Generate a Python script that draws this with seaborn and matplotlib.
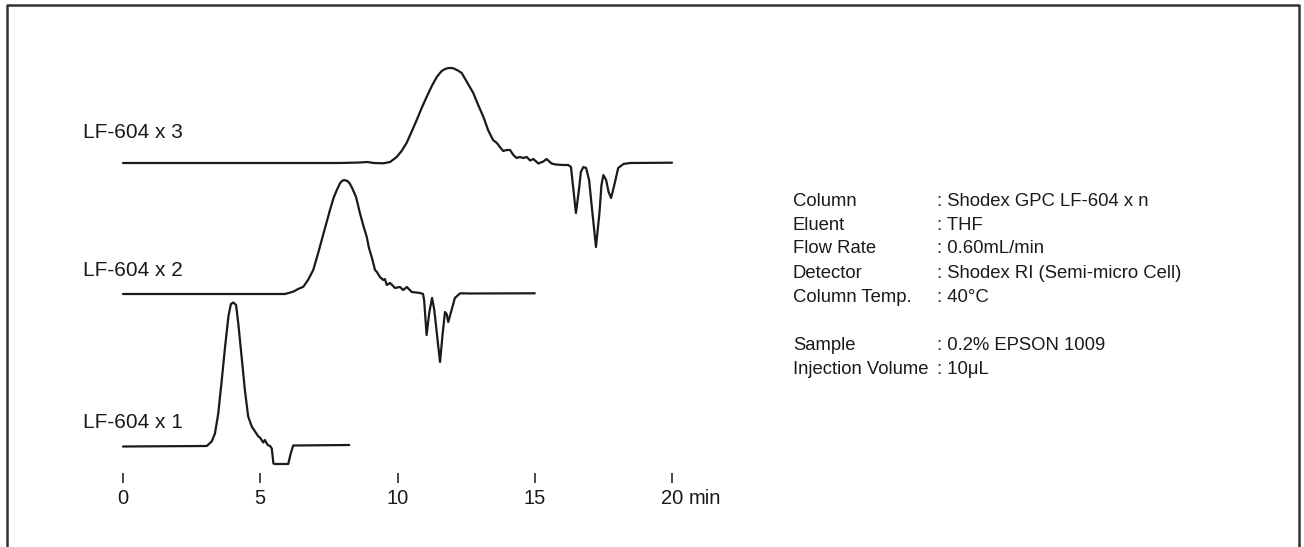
import matplotlib
matplotlib.use('Agg')
import matplotlib.pyplot as plt
from matplotlib.lines import Line2D
import pandas as pd
import seaborn as sns

# retention time (min) and detector signal (above own baseline)
T1 = [0.00, 3.05, 3.23, 3.35, 3.47, 3.60, 3.72, 3.84, 3.93, 4.02, 4.12, 4.20, 4.32,
      4.44, 4.56, 4.69, 4.81, 4.86, 4.93, 4.99, 5.05, 5.11, 5.17, 5.27, 5.36, 5.42,
      5.48, 5.54, 6.02, 6.11, 6.20, 8.24]
S1 = [0, 0.5, 5, 13, 33, 67, 100, 130, 142.5, 144, 141.5, 123, 90,
      56.5, 30, 20, 15, 13, 10, 9, 6.5, 4, 6.5, 1.5, 0.5, -2,
      -17, -17.5, -17.5, -7, 1, 1.5]

T2 = [0.00, 5.90, 6.20, 6.38, 6.57, 6.74, 6.93, 7.09, 7.24, 7.40, 7.54, 7.67, 7.79,
      7.91, 7.98, 8.05, 8.12, 8.20, 8.27, 8.33, 8.49, 8.63, 8.76, 8.88, 8.96, 9.06,
      9.18, 9.25, 9.36, 9.48, 9.54, 9.61, 9.73, 9.91, 10.09, 10.21, 10.34, 10.52,
      10.82, 10.93, 10.97, 11.06, 11.16, 11.26, 11.34, 11.46, 11.55, 11.64, 11.73,
      11.79, 11.85, 11.95, 12.09, 12.28, 12.64, 15.00]
S2 = [0, 0, 2.3, 5, 7.3, 14, 24, 39, 54, 70, 84, 96, 104,
      111, 113, 114, 113.5, 112.5, 110, 107, 97, 81, 68, 57, 46, 37,
      24, 22, 17, 14, 15, 9, 11, 6, 7, 4, 7, 2,
      1, 0, -6, -41, -18, -4, -16, -46, -68, -41, -18,
      -20, -28, -18, -4, 0.7, 0.5, 0.7]

T3 = [0.00, 7.91, 8.63, 8.89, 9.14, 9.48, 9.73, 9.97, 10.15, 10.33, 10.51, 10.70,
      10.88, 11.06, 11.25, 11.43, 11.61, 11.70, 11.79, 11.87, 11.94, 12.02, 12.09,
      12.20, 12.34, 12.53, 12.76, 12.94, 13.13, 13.30, 13.48, 13.62, 13.73, 13.85,
      13.98, 14.10, 14.22, 14.34, 14.46, 14.58, 14.71, 14.83, 14.95, 15.13, 15.31,
      15.43, 15.61, 15.77, 16.03, 16.22, 16.32, 16.39, 16.50, 16.61, 16.68, 16.77,
      16.87, 16.98, 17.09, 17.23, 17.36, 17.43, 17.50, 17.60, 17.69, 17.78, 17.89,
      18.04, 18.23, 18.47, 20.00]
S3 = [0, 0, 0.5, 1, 0, -0.3, 1, 6, 12, 20, 31, 43,
      55, 66, 77, 86, 92, 93.5, 94.5, 95, 95, 94.8, 94,
      92.5, 90, 81, 70, 58, 46, 33, 23, 20, 16, 12,
      13, 13, 8, 5, 6, 5, 6, 2.5, 4, -0.5, 1.5,
      4, -0.5, -1.5, -2, -2, -4, -22, -50, -27, -9, -4,
      -5, -17, -47, -84, -49, -22, -12, -17, -29, -35, -23,
      -5, -1, 0, 0.3]

TRACE_NAMES = ['LF-604 x 1', 'LF-604 x 2', 'LF-604 x 3']
XTICKS = [0, 5, 10, 15, 20]

INFO_KEYS = ['Column', 'Eluent', 'Flow Rate', 'Detector', 'Column Temp.', '',
             'Sample', 'Injection Volume']
INFO_VALUES = [': Shodex GPC LF-604 x n', ': THF', ': 0.60mL/min',
               ': Shodex RI (Semi-micro Cell)', ': 40°C', '',
               ': 0.2% EPSON 1009', ': 10μL']

# layout (pixels of the 1304x547 figure)
W, H = 1304, 547
baselines = [36.5, 189, 320]
label_y = [61, 213, 351]
ink = '#1a1a1a'

sns.set_theme(style='white')
plt.rcParams['font.family'] = ['Liberation Sans', 'DejaVu Sans']

frames = []
for name, t, s, b in zip(TRACE_NAMES, [T1, T2, T3], [S1, S2, S3], baselines):
    frames.append(pd.DataFrame({'time': t, 'signal': [v + b for v in s], 'trace': name}))
df = pd.concat(frames, ignore_index=True)

fig = plt.figure(figsize=(W / 100, H / 100), dpi=100)
ax = fig.add_axes([123 / W, (H - 483) / H, 549 / W, 443 / H])

sns.lineplot(data=df, x='time', y='signal', hue='trace', units='trace',
             estimator=None, sort=False, palette=[ink] * 3, linewidth=1.6,
             legend=False, ax=ax)
for line in ax.lines:
    line.set_clip_on(False)
    line.set_solid_joinstyle('round')

ax.set_xlim(0, 20)
ax.set_ylim(0, 443)
for side in ['top', 'right', 'left', 'bottom']:
    ax.spines[side].set_visible(False)
ax.set_xticks(XTICKS)
ax.set_xticklabels([str(v) for v in XTICKS])
ax.set_yticks([])
ax.tick_params(axis='x', direction='in', length=7.2, width=1.1, color=ink,
               pad=4.5, labelsize=14.5, labelcolor=ink, bottom=True)
ax.set_xlabel('')
ax.set_ylabel('')
ax.annotate('min', xy=(20, 0), xycoords=('data', 'axes fraction'),
            xytext=(17, -6), textcoords='offset pixels', ha='left', va='top',
            fontsize=14.5, color=ink)

for name, y in zip(TRACE_NAMES, label_y):
    ax.text(-1.46, y, name, ha='left', va='center', fontsize=15, color=ink,
            clip_on=False)

row_y = [201, 225, 249, 273, 297, 321, 345, 369]
for key, val, y in zip(INFO_KEYS, INFO_VALUES, row_y):
    if not key:
        continue
    fig.text(793 / W, 1 - y / H, key, ha='left', va='center', fontsize=13.3, color=ink)
    fig.text(937 / W, 1 - y / H, val, ha='left', va='center', fontsize=13.3, color=ink)

# open frame around the figure (bottom edge is cut off in the original)
fig.add_artist(Line2D([7 / W, 7 / W, 1299 / W, 1299 / W],
                      [-0.02, 1 - 5 / H, 1 - 5 / H, -0.02],
                      transform=fig.transFigure, color='#333333', linewidth=1.8))

fig.savefig('out.png', dpi=100)
